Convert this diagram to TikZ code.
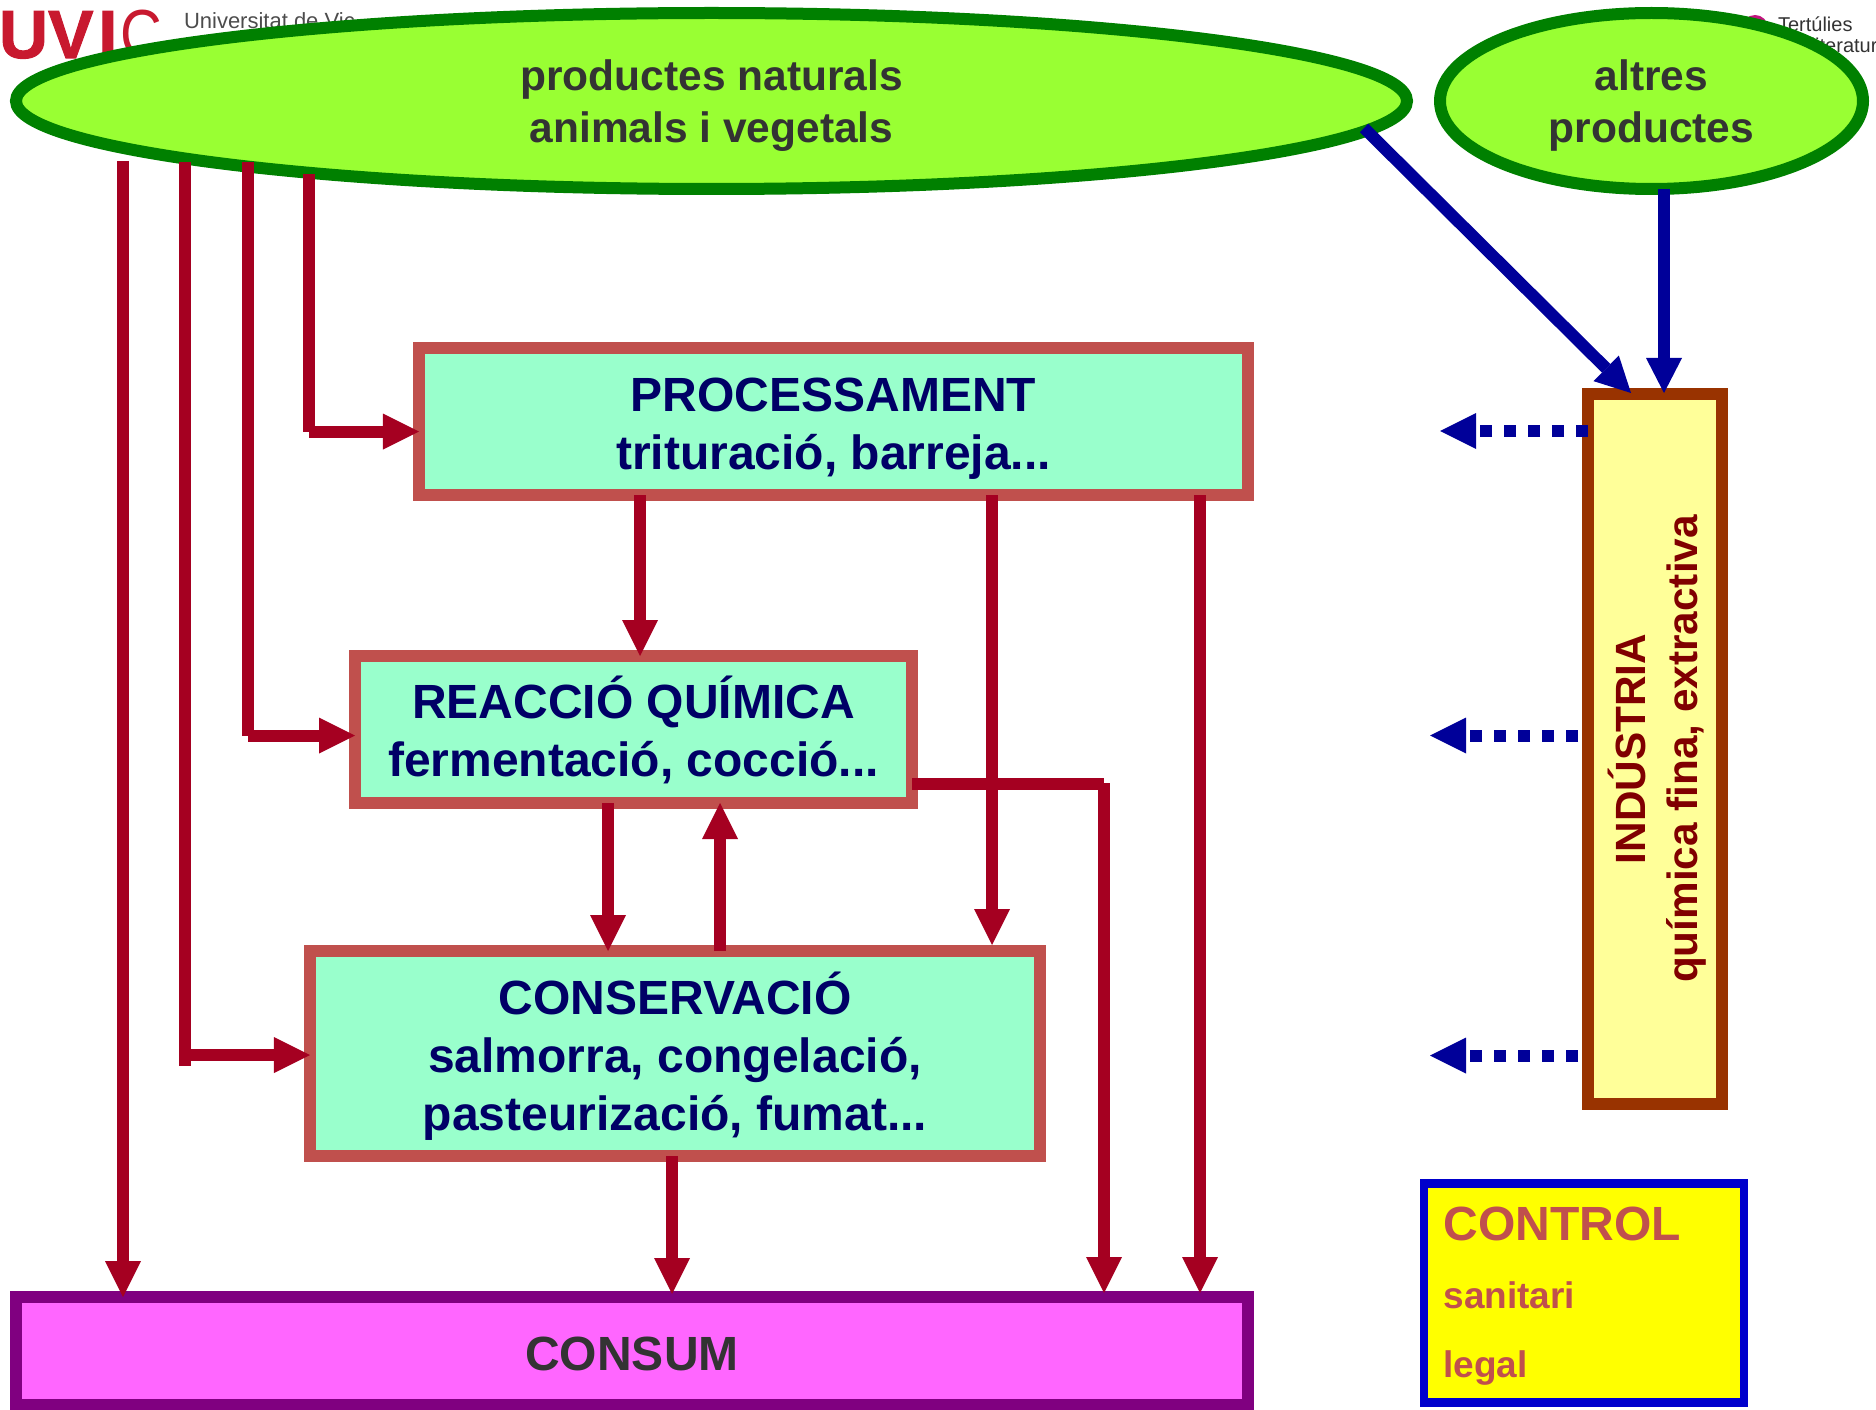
\documentclass[tikz,border=0pt]{standalone}
\usepackage{fontspec}
\setmainfont{Liberation Sans}
\newfontfamily\uvicbold[UprightFont=* Bold,FakeBold=1.5]{Liberation Sans}
\usetikzlibrary{arrows.meta,shapes.geometric,calc}
\definecolor{flowred}{HTML}{A50021}
\definecolor{flowblue}{HTML}{000099}
\definecolor{elfill}{HTML}{99FF33}
\definecolor{elline}{HTML}{008000}
\definecolor{procfill}{HTML}{99FFCC}
\definecolor{procline}{HTML}{C0504D}
\definecolor{navytext}{HTML}{000066}
\definecolor{greytext}{HTML}{333333}
\definecolor{consfill}{HTML}{FF66FF}
\definecolor{consline}{HTML}{800080}
\definecolor{indfill}{HTML}{FFFF99}
\definecolor{indline}{HTML}{993300}
\definecolor{indtext}{HTML}{800000}
\definecolor{ctrlline}{HTML}{0000CC}
\definecolor{ctrlfill}{HTML}{FFFF00}
\definecolor{uvicred}{HTML}{C8192F}
\definecolor{logopink}{HTML}{C2147F}
\newcommand{\topstrut}[1]{\rule{0pt}{#1bp}}
\tikzset{
  every node/.style={inner sep=0pt,outer sep=0pt},
  elli/.style={ellipse,draw=elline,fill=elfill,line width=12bp,align=center,text=greytext,
    font=\fontsize{42.5bp}{52bp}\selectfont\bfseries},
  procbox/.style={rectangle,draw=procline,fill=procfill,line width=12bp,align=center,text=navytext,
    font=\fontsize{48bp}{58bp}\selectfont\bfseries},
  consbox/.style={rectangle,draw=consline,fill=consfill,line width=12bp,text=greytext,
    font=\fontsize{48bp}{58bp}\selectfont\bfseries},
  indbox/.style={rectangle,draw=indline,fill=indfill,line width=12bp,align=center,text=indtext,rotate=90,
    font=\fontsize{42.3bp}{52bp}\selectfont\bfseries},
  ctrlbox/.style={rectangle,draw=ctrlline,fill=ctrlfill,line width=8.5bp,align=left,text=procline,
    font=\fontsize{37bp}{68.5bp}\selectfont\bfseries},
  redflow/.style={draw=flowred,line width=12bp},
  redarrow/.style={redflow,-{Triangle[length=36bp,width=36bp,line width=0pt]}},
  bluearrow/.style={draw=flowblue,line width=12bp,-{Triangle[length=35bp,width=36bp,line width=0pt]}},
  dotarrow/.style={draw=flowblue,line width=12bp,dash pattern=on 12bp off 12bp,-{Triangle[length=36bp,width=36bp,line width=0pt]}},
  logotext/.style={anchor=base west,text=black!70,font=\fontsize{22bp}{26bp}\selectfont},
  logotextb/.style={anchor=base west,text=black!80,font=\fontsize{20bp}{24bp}\selectfont},
}
\begin{document}
\begin{tikzpicture}[x=1bp,y=-1bp]
\useasboundingbox (0,0) rectangle (1876,1410);
% logos behind the diagram
\node[anchor=base west,text=uvicred,font=\fontsize{68bp}{70bp}\selectfont] (uvic) at (-1,58)
  {{\uvicbold UV\kern5bpI\kern3bp}\scalebox{.85}[1]{C}};
\node[logotext] (uvictext) at (184,29) {Universitat de Vic};
\fill[logopink] (1755,28) circle (13);
\node[logotextb] (tert) at (1778,32) {Tertúlies};
\node[logotextb] (lit) at (1783,53) {de literatura};
% main nodes
\node[elli,minimum width=1391bp,minimum height=176bp] (ell1) at (711.5,101) {\topstrut{40.5}productes naturals\\animals i vegetals};
\node[elli,minimum width=423bp,minimum height=176bp] (ell2) at (1651.5,101) {\topstrut{40.5}altres\\productes};
\node[procbox,minimum width=829bp,minimum height=147bp] (proc) at (833.5,421.5) {\topstrut{47}PROCESSAMENT\\trituració, barreja...};
\node[procbox,minimum width=557bp,minimum height=147bp] (reac) at (633.5,729.5) {REACCIÓ QUÍMICA\\fermentació, cocció...};
\node[procbox,minimum width=730bp,minimum height=205bp] (cons) at (675,1053.5) {\topstrut{48}CONSERVACIÓ\\salmorra, congelació,\\pasteurizació, fumat...};
\node[consbox,minimum width=1232bp,minimum height=108bp] (consum) at (632,1351) {\topstrut{40}CONSUM};
\node[indbox,minimum width=710bp,minimum height=134bp] (ind) at (1655,749) {\topstrut{41}INDÚSTRIA\\química fina, extractiva};
\node[ctrlbox,minimum width=320bp,minimum height=219bp,text width=281bp] (ctrl) at (1584,1293)
  {\topstrut{39}{\fontsize{48bp}{68.5bp}\selectfont CONTROL}\\sanitari\\legal};
% coordinates of the free ends and x positions
\coordinate (a1) at (123,161);
\coordinate (a2) at (185,162);
\coordinate (a3) at (248,162);
\coordinate (a4) at (308.5,174);
\coordinate (a2c) at (185,1066);
\coordinate (a3c) at (248,736);
\coordinate (a4c) at (308.5,431.7);
\coordinate (h2) at (185,1055);
\coordinate (h3) at (248,735.5);
\coordinate (h4) at (308.5,431.5);
\coordinate (xpr) at (640,0);
\coordinate (xpc) at (992,0);
\coordinate (xpk) at (1200,0);
\coordinate (xrc) at (608,0);
\coordinate (xcr) at (720,0);
\coordinate (xck) at (672,0);
\coordinate (xrk) at (1104,0);
\coordinate (yrk) at (0,784);
\coordinate (ds) at (1364,128);
\coordinate (dt) at (1631,393);
\coordinate (bs) at (1664,189);
\coordinate (bt) at (1664,393);
\coordinate (d1s) at (1588,431);
\coordinate (d1t) at (1440,431);
\coordinate (d2s) at (1578,735.5);
\coordinate (d2t) at (1430,735.5);
\coordinate (d3s) at (1578,1055.5);
\coordinate (d3t) at (1430,1055.5);
% red connectors: feeds from natural products
\draw[redarrow] (a1) -- (consum.north -| a1);
\draw[redflow] (a2) -- (a2c);
\draw[redarrow] (h2) -- (cons.west |- h2);
\draw[redflow] (a3) -- (a3c);
\draw[redarrow] (h3) -- (reac.west |- h3);
\draw[redflow] (a4) -- (a4c);
\draw[redarrow] (h4) -- (proc.west |- h4);
% red connectors between stages
\draw[redarrow] (proc.south -| xpr) -- (reac.north -| xpr);
\draw[redarrow,shorten >=6bp] (proc.south -| xpc) -- (cons.north -| xpc);
\draw[redarrow,shorten >=4bp] (proc.south -| xpk) -- (consum.north -| xpk);
\draw[redarrow] (reac.south -| xrc) -- (cons.north -| xrc);
\draw[redarrow] (cons.north -| xcr) -- (reac.south -| xcr);
\draw[redarrow,shorten >=3bp] (cons.south -| xck) -- (consum.north -| xck);
\draw[redflow] (reac.east |- yrk) -- (xrk |- yrk);
\draw[redarrow,shorten >=4bp] ($(xrk |- yrk)+(0,-1)$) -- (consum.north -| xrk);
% blue connectors
\draw[bluearrow] (ds) -- (dt);
\draw[bluearrow] (bs) -- (bt);
\draw[dotarrow] (d1s) -- (d1t);
\draw[dotarrow] (d2s) -- (d2t);
\draw[dotarrow] (d3s) -- (d3t);
\end{tikzpicture}
\end{document}
